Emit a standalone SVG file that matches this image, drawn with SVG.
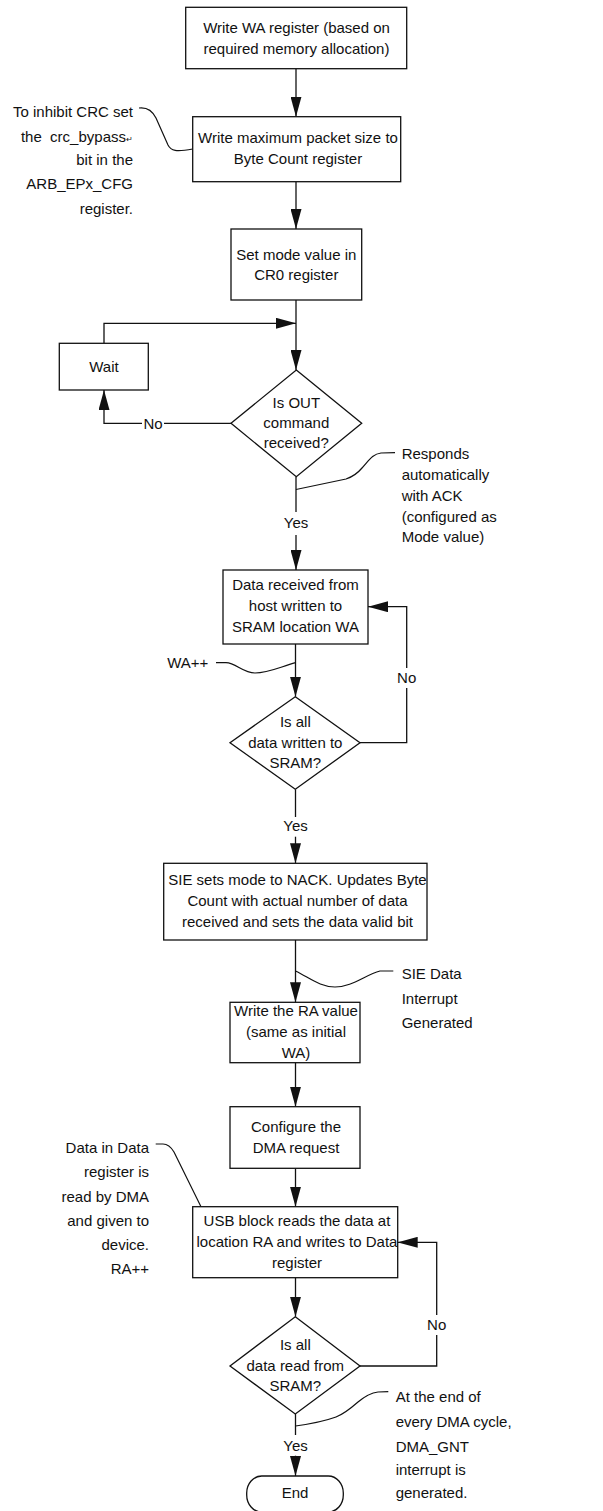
<svg xmlns="http://www.w3.org/2000/svg" width="603" height="1511" viewBox="0 0 603 1511">
<style>
text{font-family:"Liberation Sans",Arial,sans-serif;font-size:15px;fill:#111}
.c{text-anchor:middle}
.r{text-anchor:end}
.box{fill:#fff;stroke:#111;stroke-width:1.3}
.ln{fill:none;stroke:#111;stroke-width:1.3}
.cl{fill:none;stroke:#111;stroke-width:1.2}
.bg{fill:#fff;stroke:none}
</style>
<defs>
<marker id="ah" viewBox="0 0 20 11" markerUnits="userSpaceOnUse" markerWidth="20" markerHeight="11" refX="20" refY="5.5" orient="auto">
<path d="M0,0 L20,5.5 L0,11 z" fill="#111"/>
</marker>
</defs>
<rect width="603" height="1511" fill="#fff"/>

<g id="connectors">
<path class="ln" d="M296,68.7 V116.7" marker-end="url(#ah)"/>
<path class="ln" d="M296,181.7 V229" marker-end="url(#ah)"/>
<path class="ln" d="M296,300 V370" marker-end="url(#ah)"/>
<path class="ln" d="M104,343.3 V323.3 H296" marker-end="url(#ah)"/>
<path class="ln" d="M231.5,423.3 H104 V390" marker-end="url(#ah)"/>
<path class="ln" d="M296,476.7 V512"/>
<path class="ln" d="M296,535 V570" marker-end="url(#ah)"/>
<path class="ln" d="M295.5,644 V696.7" marker-end="url(#ah)"/>
<path class="ln" d="M360,742.7 H406.7 V606.7 H368" marker-end="url(#ah)"/>
<path class="ln" d="M295.5,789.3 V817"/>
<path class="ln" d="M295.5,836.7 V863.3" marker-end="url(#ah)"/>
<path class="ln" d="M295.5,940 V1002.3" marker-end="url(#ah)"/>
<path class="ln" d="M295.5,1062.7 V1106.7" marker-end="url(#ah)"/>
<path class="ln" d="M295.5,1168.3 V1206.7" marker-end="url(#ah)"/>
<path class="ln" d="M295.5,1277.7 V1316.7" marker-end="url(#ah)"/>
<path class="ln" d="M360,1366 H436.7 V1242.3 H397.7" marker-end="url(#ah)"/>
<path class="ln" d="M295.5,1414 V1435"/>
<path class="ln" d="M295.5,1455.7 V1476" marker-end="url(#ah)"/>
<rect class="bg" x="142" y="416" width="22" height="16"/>
<text class="c" x="153" y="428.5">No</text>
<rect class="bg" x="398" y="668" width="18" height="20"/>
<text class="c" x="406.7" y="683.3">No</text>
<rect class="bg" x="428" y="1315" width="18" height="20"/>
<text class="c" x="436.7" y="1330">No</text>
<text class="c" x="296" y="528.3">Yes</text>
<text class="c" x="295.5" y="830.7">Yes</text>
<text class="c" x="295.5" y="1450.7">Yes</text>
<path class="cl" d="M139,108 C147,107 152,110 156,118 L168,145 C171,151 176,152 192.7,149"/>
<path class="cl" d="M395,452.7 L381,453 C372,454 368,462 362,468 C357,474 352,477 346,479 L296,489.5"/>
<path class="cl" d="M216,662.7 L226,662.7 C236,663 243,673 255,673 C268,673 280,667 295.5,662.7"/>
<path class="cl" d="M295.5,971 C310,978 320,987 335,987 C352,987 365,975 380,971 L393.3,971"/>
<path class="cl" d="M155.7,1144 L163,1144 C168,1144 171,1147 174,1152 L201,1206.7"/>
<path class="cl" d="M388.3,1391.7 L378,1392 C370,1393 364,1397 358,1402 C350,1409 344,1414 336,1417 C325,1421 310,1424 295.5,1426"/>
</g>

<g id="n1">
<rect class="box" x="185.7" y="7.3" width="221" height="61.4"/>
<text class="c" x="296.5" y="33.3">Write WA register (based on</text>
<text class="c" x="296.5" y="54.3">required memory allocation)</text>
</g>
<g id="n2">
<rect class="box" x="192.7" y="116.7" width="208" height="65"/>
<text class="c" x="298" y="143.3">Write maximum packet size to</text>
<text class="c" x="298" y="164.3">Byte Count register</text>
</g>
<g id="n3">
<rect class="box" x="231" y="229" width="130.7" height="71"/>
<text class="c" x="296.3" y="260">Set mode value in</text>
<text class="c" x="296.3" y="280">CR0 register</text>
</g>
<g id="wait">
<rect class="box" x="59.3" y="343.3" width="89" height="46.7"/>
<text class="c" x="104" y="371.7">Wait</text>
</g>
<g id="d1">
<polygon class="box" points="296.3,370 361.7,423.3 296.3,476.7 231,423.3"/>
<text class="c" x="296.3" y="408.3">Is OUT</text>
<text class="c" x="296.3" y="428.3">command</text>
<text class="c" x="296.3" y="448.3">received?</text>
</g>
<g id="n4">
<rect class="box" x="223" y="570" width="145" height="74"/>
<text class="c" x="295.5" y="590">Data received from</text>
<text class="c" x="295.5" y="611">host written to</text>
<text class="c" x="295.5" y="632">SRAM location WA</text>
</g>
<g id="d2">
<polygon class="box" points="295.3,696.7 360,742.7 295.3,789.3 230,742.7"/>
<text class="c" x="295.3" y="726.7">Is all</text>
<text class="c" x="295.3" y="747.7">data written to</text>
<text class="c" x="295.3" y="768.3">SRAM?</text>
</g>
<g id="n5">
<rect class="box" x="163.7" y="863.3" width="263.3" height="76.7"/>
<text class="c" x="297.5" y="885">SIE sets mode to NACK. Updates Byte</text>
<text class="c" x="297.5" y="905.7">Count with actual number of data</text>
<text class="c" x="297.5" y="926.7">received and sets the data valid bit</text>
</g>
<g id="n6">
<rect class="box" x="230" y="1002.3" width="130" height="60.4"/>
<text class="c" x="296" y="1016">Write the RA value</text>
<text class="c" x="296" y="1037.3">(same as initial</text>
<text class="c" x="296" y="1058.3">WA)</text>
</g>
<g id="n7">
<rect class="box" x="230" y="1106.7" width="130" height="61.6"/>
<text class="c" x="296" y="1131.7">Configure the</text>
<text class="c" x="296" y="1153.3">DMA request</text>
</g>
<g id="n8">
<rect class="box" x="192.7" y="1206.7" width="205" height="71"/>
<text class="c" x="297" y="1225.7">USB block reads the data at</text>
<text class="c" x="297" y="1246.7">location RA and writes to Data</text>
<text class="c" x="297" y="1268.3">register</text>
</g>
<g id="d3">
<polygon class="box" points="295.3,1316.7 360,1366 295.3,1414 230,1366"/>
<text class="c" x="295.3" y="1350">Is all</text>
<text class="c" x="295.3" y="1371">data read from</text>
<text class="c" x="295.3" y="1391">SRAM?</text>
</g>
<g id="end">
<rect class="box" x="246.7" y="1476" width="96.6" height="36" rx="15" ry="17"/>
<text class="c" x="295" y="1498.3">End</text>
</g>

<g id="note-crc">
<text class="r" x="133" y="117">To inhibit CRC set</text>
<text class="r" x="133" y="141.5">the &#160;crc_bypass<tspan font-size="8">↵</tspan></text>
<text class="r" x="133" y="165">bit in the</text>
<text class="r" x="133" y="189">ARB_EPx_CFG</text>
<text class="r" x="133" y="214">register.</text>
</g>
<g id="note-ack">
<text x="401.7" y="459.3">Responds</text>
<text x="401.7" y="480">automatically</text>
<text x="401.7" y="500.7">with ACK</text>
<text x="401.7" y="521.5">(configured as</text>
<text x="401.7" y="542">Mode value)</text>
</g>
<g id="note-wa">
<text class="r" x="208.3" y="668.3">WA++</text>
</g>
<g id="note-sie">
<text x="401.7" y="979.3">SIE Data</text>
<text x="401.7" y="1004">Interrupt</text>
<text x="401.7" y="1028.3">Generated</text>
</g>
<g id="note-dma">
<text class="r" x="149" y="1152.7">Data in Data</text>
<text class="r" x="149" y="1177.3">register is</text>
<text class="r" x="149" y="1201.7">read by DMA</text>
<text class="r" x="149" y="1225.7">and given to</text>
<text class="r" x="149" y="1250">device.</text>
<text class="r" x="149" y="1274.3">RA++</text>
</g>
<g id="note-gnt">
<text x="395.7" y="1401.7">At the end of</text>
<text x="395.7" y="1426.7">every DMA cycle,</text>
<text x="395.7" y="1451.7">DMA_GNT</text>
<text x="395.7" y="1475">interrupt is</text>
<text x="395.7" y="1498.3">generated.</text>
</g>
</svg>
